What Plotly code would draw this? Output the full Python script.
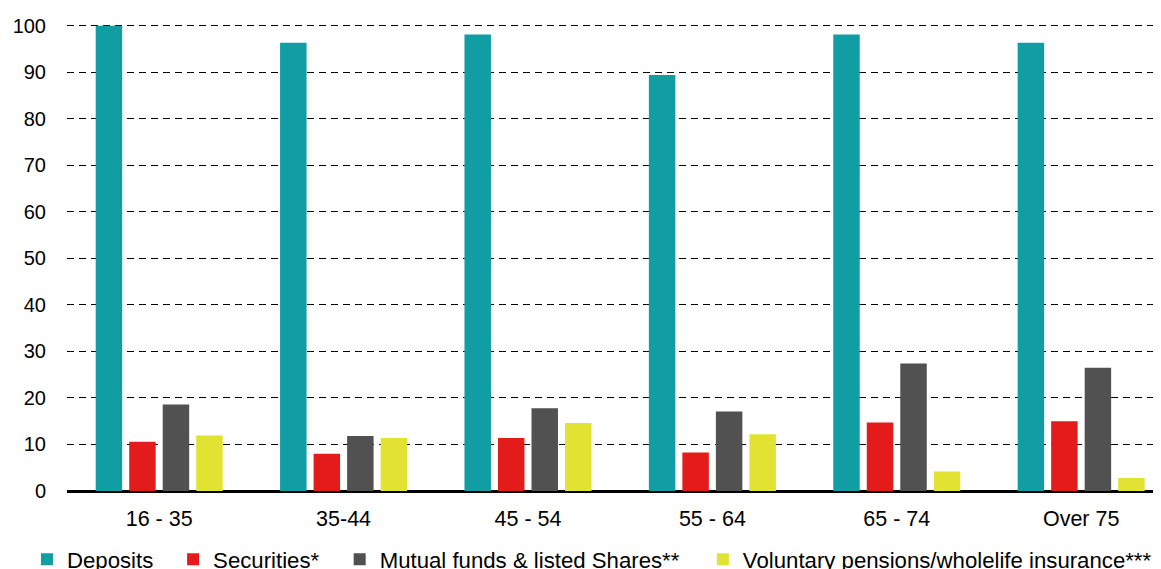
import plotly.graph_objects as go

categories = ["16 - 35", "35-44", "45 - 54", "55 - 64", "65 - 74", "Over 75"]
series_names = ["Deposits", "Securities*", "Mutual funds & listed Shares**",
                "Voluntary pensions/wholelife insurance***"]
deposits = [100.0, 96.3, 98.1, 89.4, 98.1, 96.3]
securities = [10.6, 8.0, 11.4, 8.3, 14.7, 15.0]
mutual_funds = [18.6, 11.8, 17.8, 17.1, 27.4, 26.5]
pensions = [11.9, 11.4, 14.6, 12.2, 4.2, 2.8]
y_ticks = [0, 10, 20, 30, 40, 50, 60, 70, 80, 90, 100]

colors = ["#119DA4", "#E31B1B", "#515151", "#E1E232"]
values = [deposits, securities, mutual_funds, pensions]
# trailing blank spacing after each legend label (spacing only, not data)
legend_pads = ["\u2004\u2004", "\u2002\u2009", "\u2002\u2004", ""]

fig = go.Figure()
for name, vals, col, pad in zip(series_names, values, colors, legend_pads):
    fig.add_trace(go.Bar(x=categories, y=vals, name=name + pad,
                         marker=dict(color=col, line=dict(width=0))))

FAM = "Liberation Sans, Arial, sans-serif"
fig.update_layout(
    width=1153, height=561,
    margin=dict(l=59, r=0, t=13, b=78, autoexpand=False),
    paper_bgcolor="white", plot_bgcolor="white",
    font=dict(family=FAM, size=20, color="#000000"),
    barmode="group", bargap=0.273, bargroupgap=0.21,
    showlegend=True,
    legend=dict(orientation="h", x=-0.0366, xanchor="left",
                y=-0.1455, yanchor="middle",
                font=dict(family=FAM, size=22.2, color="#000000"),
                bgcolor="rgba(0,0,0,0)", borderwidth=0, traceorder="normal"),
    xaxis=dict(type="category", range=[-0.5, 5.433], showgrid=False,
               showline=False, ticks="", zeroline=False, automargin=False,
               ticklabelstandoff=12,
               tickfont=dict(family=FAM, size=21.5, color="#000000")),
    yaxis=dict(range=[0, 101], tickvals=y_ticks, ticktext=[str(v) for v in y_ticks],
               showgrid=True, gridcolor="#000000", griddash="7px,5px", gridwidth=1.3,
               zeroline=True, zerolinecolor="#000000", zerolinewidth=3,
               showline=False, ticks="", ticklabelstandoff=20, automargin=False,
               tickfont=dict(family=FAM, size=20, color="#000000")),
)
fig.write_html("out.html")
